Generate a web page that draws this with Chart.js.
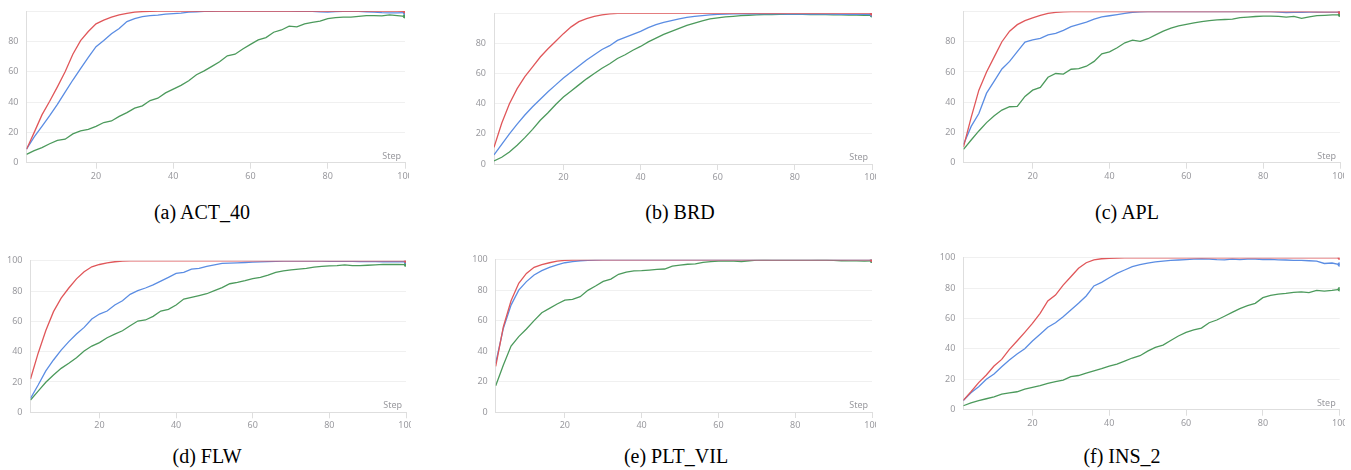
<!DOCTYPE html>
<html>
<head>
<meta charset="utf-8">
<script src="https://cdn.jsdelivr.net/npm/chart.js@4.4.1/dist/chart.umd.min.js"></script>
<style>
  html, body { margin: 0; padding: 0; background: #fff; }
  body { width: 1351px; height: 470px; position: relative; overflow: hidden; }
  canvas { position: absolute; }
  .caption {
    position: absolute;
    width: 300px;
    text-align: center;
    font-family: "Liberation Serif", "Times New Roman", serif;
    font-size: 20px;
    color: #000;
    line-height: 20px;
  }
</style>
</head>
<body>
<canvas id="chartA"></canvas>
<canvas id="chartB"></canvas>
<canvas id="chartC"></canvas>
<canvas id="chartD"></canvas>
<canvas id="chartE"></canvas>
<canvas id="chartF"></canvas>
<div class="caption" style="left:52px;top:202px">(a) ACT_40</div>
<div class="caption" style="left:530px;top:202px">(b) BRD</div>
<div class="caption" style="left:977px;top:202px">(c) APL</div>
<div class="caption" style="left:57px;top:446px">(d) FLW</div>
<div class="caption" style="left:526px;top:446px">(e) PLT_VIL</div>
<div class="caption" style="left:972px;top:446px">(f) INS_2</div>
<script>
// x values (Step) shared by every panel
const steps = [2, 4, 6, 8, 10, 12, 14, 16, 18, 20, 22, 24, 26, 28, 30, 32, 34, 36, 38, 40,
  42, 44, 46, 48, 50, 52, 54, 56, 58, 60, 62, 64, 66, 68, 70, 72, 74, 76, 78, 80,
  82, 84, 86, 88, 90, 92, 94, 96, 98, 100];
const yTicks = [0, 20, 40, 60, 80, 100];
const xTicks = [20, 40, 60, 80, 100];

// (a) ACT_40
const redA = [8.8, 20, 31.5, 40.5, 50, 60, 71.5, 80.5, 86.5, 91.5, 94, 96, 97.5, 98.5, 99.2, 99.6, 99.8, 99.9, 99.9, 99.9,
  99.9, 99.9, 99.9, 99.9, 99.9, 99.9, 99.9, 99.9, 99.9, 99.9, 99.9, 99.9, 99.9, 99.9, 99.9, 99.9, 99.9, 99.9, 99.9, 99.9,
  99.9, 99.9, 99.9, 99.9, 99.9, 99.9, 99.9, 99.9, 99.9, 99.8];
const blueA = [9, 17, 24, 31, 38.5, 46.5, 54.5, 62, 69.5, 76.5, 80.5, 85, 88.5, 93, 95, 96.3, 97, 97.3, 98, 98.3,
  98.6, 99.3, 99.5, 99.7, 99.8, 99.9, 99.9, 99.9, 99.9, 99.9, 99.9, 99.9, 99.9, 99.9, 99.9, 99.8, 99.8, 99.7, 99.4, 99.3,
  99.6, 99.8, 99.8, 99.7, 99.5, 99.3, 98.9, 98.8, 98.8, 98.9];
const greenA = [5.5, 8, 10, 12.5, 14.7, 15.5, 19, 21, 22, 24, 26.5, 27.5, 30.5, 33, 36, 37.5, 41, 42.5, 46, 48.5,
  51, 54, 58, 60.5, 63.5, 66.5, 70.5, 71.5, 75, 78, 81, 82.5, 86, 87.5, 90, 89.5, 91.5, 92.5, 93.3, 95,
  95.6, 96, 96, 96.5, 97, 97, 96.8, 97.5, 97, 96.5];

// (b) BRD
const redB = [11, 27, 40, 50, 58, 64.5, 71, 76.5, 81.5, 86.5, 91, 94.5, 96.5, 98, 99, 99.6, 99.9, 99.9, 99.9, 99.9,
  99.9, 99.9, 99.9, 99.9, 99.9, 99.9, 99.9, 99.9, 99.9, 99.9, 99.9, 99.9, 99.9, 99.9, 99.9, 99.9, 99.9, 99.9, 99.9, 99.9,
  99.9, 99.9, 99.9, 99.9, 99.9, 99.9, 99.9, 99.9, 99.9, 99.9];
const blueB = [6, 13, 20, 26.5, 32.5, 38, 43, 48, 52.5, 57, 61, 65, 69, 72.5, 76, 78.5, 82, 84, 86, 88,
  90.5, 92.5, 94, 95.2, 96.3, 97.3, 98, 98.5, 99, 99.3, 99.5, 99.6, 99.7, 99.7, 99.7, 99.6, 99.6, 99.6, 99.5, 99.5,
  99.5, 99.4, 99.4, 99.4, 99.4, 99.3, 99.3, 99.3, 99.3, 99.2];
const greenB = [2, 4.5, 8, 12.5, 17.5, 23, 29, 34, 39.5, 44.5, 48.5, 52.5, 56.5, 60, 63.5, 66.5, 70, 72.5, 75.5, 78,
  81, 83.5, 86, 88, 90, 92, 93.5, 95, 96.3, 97, 97.6, 98, 98.4, 98.7, 99, 99.2, 99.2, 99.3, 99.3, 99.3,
  99.3, 99.2, 99.2, 99.1, 99, 98.9, 98.8, 98.8, 98.7, 98.7];

// (c) APL
const redC = [10.5, 30, 48, 60, 70, 80, 87, 91.3, 94, 95.8, 97.5, 98.8, 99.4, 99.8, 99.9, 99.9, 99.9, 99.9, 99.9, 99.9,
  99.9, 99.9, 99.9, 99.9, 99.9, 99.9, 99.9, 99.9, 99.9, 99.9, 99.9, 99.9, 99.9, 99.9, 99.9, 99.9, 99.9, 99.9, 99.9, 99.9,
  99.9, 99.9, 99.9, 99.9, 99.9, 99.9, 99.8, 99.8, 99.7, 99.7];
const blueC = [12, 24, 32.5, 46, 54, 62, 67, 73.5, 79.8, 81.3, 82.2, 84.5, 85.5, 87.5, 90, 91.5, 93, 95, 96.5, 97.2,
  98, 98.8, 99.5, 99.8, 99.9, 99.9, 99.9, 99.9, 99.9, 99.9, 99.9, 99.9, 99.9, 99.9, 99.9, 99.9, 99.9, 99.9, 99.9, 99.9,
  99.9, 99.6, 99.3, 99.4, 99.5, 99.6, 99.7, 99.6, 99.6, 99.6];
const greenC = [8.8, 15, 21, 26.5, 31, 34.8, 37, 37.2, 43.8, 48, 49.8, 56.5, 59, 58.6, 61.8, 62.2, 63.8, 67, 72, 73.3,
  76, 79.3, 81, 80.2, 82, 84.5, 87, 89, 90.5, 91.5, 92.5, 93.3, 94, 94.5, 94.7, 95, 96, 96.3, 96.7, 97,
  97, 96.8, 96.3, 96.8, 95.4, 96.5, 97.3, 97.5, 97.8, 97.8];

// (d) FLW
const redD = [22, 39, 54, 66.4, 75.3, 82, 88, 92.7, 96, 97.5, 98.5, 99.3, 99.7, 99.9, 99.9, 99.9, 99.9, 99.9, 99.9, 99.9,
  99.9, 99.9, 99.9, 99.9, 99.9, 99.9, 99.9, 99.9, 99.9, 99.9, 99.9, 99.9, 99.9, 99.9, 99.9, 99.9, 99.9, 99.9, 99.9, 99.9,
  99.9, 99.9, 99.9, 99.9, 99.9, 99.9, 99.9, 99.9, 99.9, 99.9];
const blueD = [9.2, 18, 27.3, 34.5, 41, 46.6, 51.6, 56, 61.5, 64.8, 66.8, 70.8, 73.6, 77.8, 80.2, 82, 84, 86.5, 89, 91.6,
  92.3, 94.5, 95, 96.3, 97.3, 98.2, 98.4, 98.6, 98.8, 99, 99.2, 99.4, 99.5, 99.7, 99.7, 99.7, 99.7, 99.7, 99.7, 99.6,
  99.6, 99.5, 99.5, 99.4, 99.4, 99.4, 99.3, 99.3, 99.3, 99.3];
const greenD = [8.1, 14, 19.8, 24.6, 29, 32.3, 36, 40.4, 43.7, 46, 49.2, 51.6, 53.8, 57.1, 60.2, 60.9, 63.3, 66.8, 67.9, 70.8,
  74.7, 75.8, 77, 78.2, 80.2, 82.3, 84.8, 85.7, 86.8, 88.2, 89, 90.5, 92.3, 93.3, 94, 94.5, 95, 95.7, 96.2, 96.6,
  96.8, 97.2, 96.7, 96.8, 97, 97.3, 97.6, 97.5, 97.5, 97.4];

// (e) PLT_VIL
const redE = [30, 56, 73, 84.5, 91, 95, 96.8, 98, 99, 99.5, 99.8, 99.9, 99.9, 99.9, 99.9, 99.9, 99.9, 99.9, 99.9, 99.9,
  99.9, 99.9, 99.9, 99.9, 99.9, 99.9, 99.9, 99.9, 99.9, 99.9, 99.9, 99.9, 99.9, 99.9, 99.9, 99.9, 99.9, 99.9, 99.9, 99.9,
  99.9, 99.9, 99.9, 99.9, 99.9, 99.9, 99.9, 99.9, 99.9, 99.9];
const blueE = [32, 55, 70.2, 80, 85.6, 90, 92.8, 95, 96.6, 98, 98.8, 99.3, 99.6, 99.8, 99.9, 99.9, 99.9, 99.9, 99.9, 99.9,
  99.9, 99.9, 99.9, 99.9, 99.9, 99.9, 99.9, 99.9, 99.9, 99.9, 99.9, 99.9, 99.9, 99.9, 99.9, 99.9, 99.9, 99.9, 99.9, 99.9,
  99.9, 99.9, 99.9, 99.9, 99.9, 99.9, 99.9, 99.9, 99.9, 99.9];
const greenE = [17.3, 30.9, 43.3, 49.5, 54.5, 60, 65.2, 68, 70.9, 73.5, 74, 75.7, 79.9, 82.7, 85.8, 87.3, 90.4, 91.9, 92.6, 92.8,
  93.2, 93.6, 93.9, 95.8, 96.5, 97, 97.2, 98.3, 98.8, 99, 99, 99, 98.8, 99.3, 99.7, 99.8, 99.7, 99.7, 99.7, 99.7,
  99.7, 99.7, 99.8, 99.8, 99.5, 99.3, 99.2, 99.2, 99.1, 99.2];

// (f) INS_2
const redF = [6.1, 11.8, 17.8, 22.8, 28.7, 33.1, 39.7, 45.2, 50.9, 56.8, 63.4, 71.5, 75.4, 82, 87.5, 93, 96.7, 98.5, 99.3, 99.6,
  99.8, 99.9, 99.9, 99.9, 99.9, 99.9, 99.9, 99.9, 99.9, 99.9, 99.9, 99.9, 99.9, 99.9, 99.9, 99.9, 99.9, 99.9, 99.9, 99.9,
  99.9, 99.9, 99.9, 99.9, 99.9, 99.9, 99.9, 99.9, 99.9, 99.9];
const blueF = [6, 11.2, 15.1, 20, 23.5, 28.3, 32.7, 36.6, 40.1, 45.2, 49.6, 54.2, 57.2, 61.2, 65.6, 70, 74.8, 81.4, 83.8, 86.8,
  89.7, 91.9, 94.1, 95.5, 96.5, 97.2, 97.8, 98.2, 98.5, 98.7, 99, 99.2, 99, 98.7, 98.6, 99, 98.7, 99, 99, 98.8,
  98.9, 98.6, 98.5, 98.2, 98.2, 98, 97.7, 96.2, 96.5, 95.5];
const greenF = [2.6, 4.5, 6, 7.2, 8.5, 10.3, 11, 11.8, 13.5, 14.7, 15.8, 17.3, 18.5, 19.5, 21.7, 22.5, 24, 25.5, 27, 28.7,
  30, 32, 34, 35.5, 38.5, 41, 42.5, 45.5, 48.5, 50.9, 52.5, 53.7, 57.2, 59, 61.5, 64, 66.5, 68.5, 70, 73.7,
  75.2, 76, 76.5, 77.2, 77.5, 77, 78.5, 78, 78.5, 79.2];

const colors = { red: '#e0575a', blue: '#5b8de3', green: '#4c9a5c' };
const tickFont = { family: '"Noto Sans", "Open Sans", sans-serif', size: 9 };
const tickColor = '#9a9a9f';

// draws the little "Step" label sitting on the x axis, right side
const stepLabelPlugin = {
    id: 'stepLabel',
    beforeDatasetsDraw(chart) {
        const { ctx, chartArea } = chart;
        ctx.save();
        ctx.font = '9px "Noto Sans", sans-serif';
        ctx.fillStyle = tickColor;
        ctx.textAlign = 'right';
        ctx.textBaseline = 'alphabetic';
        ctx.fillText('Step', chartArea.right - 4, chartArea.bottom - 4);
        ctx.restore();
    }
};

function makeDataset(values, color) {
    const last = values.length - 1;
    return {
        data: steps.map((s, i) => ({ x: s, y: values[i] })),
        borderColor: color,
        backgroundColor: color,
        borderWidth: 1.3,
        tension: 0,
        pointRadius: (c) => (c.dataIndex === last ? 2.2 : 0),
        pointBorderWidth: 0,
        fill: false,
    };
}

// box = canvas position, area = where the plot area must land (page pixels)
function drawPanel(id, box, area, series, showTop) {
    const canvas = document.getElementById(id);
    const width = box.right - box.left;
    const height = box.bottom - box.top;
    canvas.width = width;
    canvas.height = height;
    canvas.style.left = box.left + 'px';
    canvas.style.top = box.top + 'px';

    const yWidth = area.left - box.left;
    const xHeight = box.bottom - area.bottom;

    return new Chart(canvas.getContext('2d'), {
        type: 'line',
        data: {
            datasets: [
                makeDataset(series[0], colors.red),
                makeDataset(series[1], colors.blue),
                makeDataset(series[2], colors.green),
            ]
        },
        options: {
            responsive: false,
            animation: false,
            devicePixelRatio: 1,
            layout: { padding: { top: area.top - box.top, right: box.right - area.right, left: 0, bottom: 0 } },
            plugins: { legend: { display: false }, tooltip: { enabled: false } },
            scales: {
                x: {
                    type: 'linear',
                    min: 2,
                    max: 100,
                    afterBuildTicks: (s) => { s.ticks = xTicks.map(v => ({ value: v })); },
                    afterFit: (s) => { s.height = xHeight; s.paddingLeft = 0; s.paddingRight = 0; },
                    ticks: { font: tickFont, color: tickColor, padding: 2, maxRotation: 0, autoSkip: false },
                    grid: { drawOnChartArea: false, drawTicks: true, tickLength: 6, color: '#dedede' },
                    border: { color: '#dedede' }
                },
                y: {
                    min: 0,
                    max: 100,
                    afterBuildTicks: (s) => { s.ticks = yTicks.map(v => ({ value: v })); },
                    afterFit: (s) => { s.width = yWidth; s.paddingTop = 0; s.paddingBottom = 0; },
                    ticks: {
                        font: tickFont,
                        color: tickColor,
                        padding: 8,
                        callback: (v) => (v === 100 && !showTop ? '' : v)
                    },
                    grid: { drawTicks: false, color: '#f0f0f0' },
                    border: { color: '#dedede' }
                }
            }
        },
        plugins: [stepLabelPlugin]
    });
}

drawPanel('chartA', { left: 0, top: 0, right: 409, bottom: 195 },
    { left: 26.5, right: 406.7, top: 11, bottom: 162.7 }, [redA, blueA, greenA], false);
drawPanel('chartB', { left: 450, top: 0, right: 876, bottom: 195 },
    { left: 494, right: 874, top: 13.3, bottom: 164 }, [redB, blueB, greenB], false);
drawPanel('chartC', { left: 900, top: 0, right: 1344, bottom: 195 },
    { left: 963.5, right: 1341.7, top: 11.5, bottom: 162.7 }, [redC, blueC, greenC], false);
drawPanel('chartD', { left: 0, top: 240, right: 411, bottom: 440 },
    { left: 30.5, right: 406, top: 260.7, bottom: 412.3 }, [redD, blueD, greenD], true);
drawPanel('chartE', { left: 450, top: 240, right: 876, bottom: 440 },
    { left: 495.7, right: 874.3, top: 259.7, bottom: 412 }, [redE, blueE, greenE], true);
drawPanel('chartF', { left: 900, top: 240, right: 1345, bottom: 440 },
    { left: 963.3, right: 1339.7, top: 257.7, bottom: 409.7 }, [redF, blueF, greenF], true);
</script>
</body>
</html>
